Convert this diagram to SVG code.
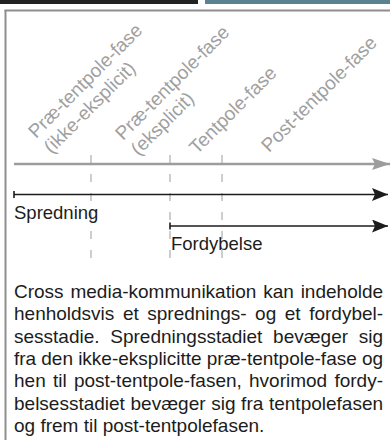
<svg xmlns="http://www.w3.org/2000/svg" width="390" height="440" viewBox="0 0 390 440">
  <style>
    .phase { font-family: "Liberation Sans", Arial, sans-serif; font-size: 19px; fill: #a0a0a0; }
    .stage { font-family: "Liberation Sans", Arial, sans-serif; font-size: 18.5px; fill: #1c1c1c; }
    .body  { font-family: "Liberation Sans", Arial, sans-serif; font-size: 19px; fill: #1c1c1c; }
    .divider { stroke: #cdcdcd; stroke-width: 2; stroke-dasharray: 8 11; fill: none; }
    .stage-line { stroke: #1c1c1c; stroke-width: 1.6; fill: none; }
  </style>
  <defs>
    <marker id="headGray" markerUnits="userSpaceOnUse" markerWidth="18" markerHeight="12" viewBox="0 0 18 12" refX="18" refY="6" orient="auto">
      <path d="M0,0 L18,6 L0,12 L3,6 z" fill="#9c9c9c"/>
    </marker>
    <marker id="headBlack" markerUnits="userSpaceOnUse" markerWidth="16" markerHeight="13" viewBox="0 0 16 13" refX="16" refY="6.5" orient="auto">
      <path d="M0,0 L16,6.5 L0,13 L3,6.5 z" fill="#1c1c1c"/>
    </marker>
  </defs>

  <!-- header bars -->
  <g id="header">
    <rect x="0" y="0" width="198" height="4" fill="#222222"/>
    <rect x="205" y="0" width="185" height="4" fill="#58838f"/>
  </g>

  <!-- panel frame -->
  <g id="frame" stroke="#8e8e8e" stroke-width="2" fill="none">
    <line x1="4.5" y1="10.5" x2="390" y2="10.5"/>
    <line x1="5.5" y1="10" x2="5.5" y2="440"/>
  </g>

  <!-- phase labels -->
  <g id="phase-1" transform="translate(36,139) rotate(-45)">
    <text class="phase"><tspan x="0" y="0">Præ-tentpole-fase</tspan><tspan x="0" y="22">(ikke-eksplicit)</tspan></text>
  </g>
  <g id="phase-2" transform="translate(123,141) rotate(-45)">
    <text class="phase"><tspan x="0" y="0">Præ-tentpole-fase</tspan><tspan x="0" y="22">(eksplicit)</tspan></text>
  </g>
  <g id="phase-3" transform="translate(197,155) rotate(-45)">
    <text class="phase" x="0" y="0">Tentpole-fase</text>
  </g>
  <g id="phase-4" transform="translate(269,153) rotate(-45)">
    <text class="phase" x="0" y="0">Post-tentpole-fase</text>
  </g>

  <!-- phase boundaries and arrows -->
  <g id="connectors">
    <line class="divider" x1="91" y1="155" x2="91" y2="263"/>
    <line class="divider" x1="170" y1="155" x2="170" y2="263"/>
    <line class="divider" x1="222" y1="155" x2="222" y2="263"/>

    <line x1="14" y1="164" x2="390" y2="164" stroke="#9c9c9c" stroke-width="2.5" marker-end="url(#headGray)"/>

    <line class="stage-line" x1="14" y1="194.5" x2="388" y2="194.5" marker-end="url(#headBlack)"/>
    <line class="stage-line" x1="14" y1="191" x2="14" y2="198"/>

    <line class="stage-line" x1="170" y1="226" x2="388" y2="226" marker-end="url(#headBlack)"/>
    <line class="stage-line" x1="170" y1="222.5" x2="170" y2="229.5"/>
  </g>

  <!-- stage names -->
  <g id="stage-spredning">
    <text class="stage" x="14" y="219">Spredning</text>
  </g>
  <g id="stage-fordybelse">
    <text class="stage" x="171" y="250">Fordybelse</text>
  </g>

  <!-- caption, justified line by line -->
  <g id="caption" class="body">
    <text x="14" y="298" word-spacing="1.57">Cross media-kommunikation kan indeholde</text>
    <text x="14" y="320.3" word-spacing="3.26">henholdsvis et sprednings- og et fordybel-</text>
    <text x="14" y="342.6" word-spacing="5.43">sesstadie. Spredningsstadiet bevæger sig</text>
    <text x="14" y="364.9" word-spacing="-0.15">fra den ikke-eksplicitte præ-tentpole-fase og</text>
    <text x="14" y="387.2" word-spacing="1.95">hen til post-tentpole-fasen, hvorimod fordy-</text>
    <text x="14" y="409.5" word-spacing="0.37">belsesstadiet bevæger sig fra tentpolefasen</text>
    <text x="14" y="431.8">og frem til post-tentpolefasen.</text>
  </g>
</svg>
